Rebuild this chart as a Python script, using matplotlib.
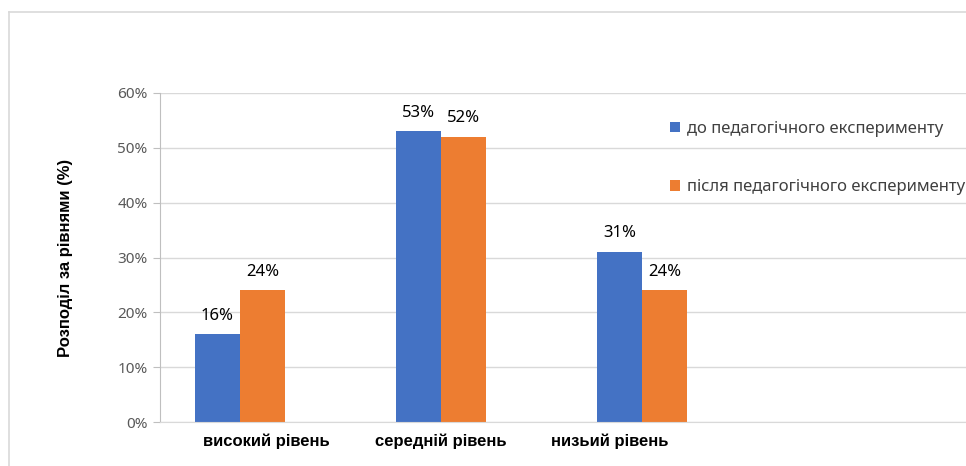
import numpy as np
import matplotlib
matplotlib.use("Agg")
import matplotlib.pyplot as plt
from matplotlib.lines import Line2D

plt.rcParams['font.family'] = ['Noto Sans', 'DejaVu Sans']

categories = ["високий рівень", "середній рівень", "низьий рівень"]
before = [16, 53, 31]
after = [24, 52, 24]
series_names = ["до педагогічного експерименту", "після педагогічного експерименту"]
colors = ["#4472c4", "#ed7d31"]
yticks = [0, 10, 20, 30, 40, 50, 60]

fig = plt.figure(figsize=(9.66, 4.66), dpi=100)
ax = fig.add_axes([160 / 966, 44 / 466, 1 - 160 / 966, 329 / 466])

x = np.arange(len(categories))
w = 0.224
b1 = ax.bar(x - w / 2, before, w, color=colors[0], label=series_names[0])
b2 = ax.bar(x + w / 2, after, w, color=colors[1], label=series_names[1])

for bars, vals in [(b1, before), (b2, after)]:
    for r, v in zip(bars, vals):
        ax.annotate(f"{v}%", (r.get_x() + r.get_width() / 2, v),
                    xytext=(0, 13.5), textcoords="offset points",
                    ha="center", va="center", fontsize=12, color="black")

ax.set_xlim(-80 / 201, (966 - 240) / 201)
ax.set_ylim(0, 60)
ax.set_yticks(yticks)
ax.set_yticklabels([f"{t}%" for t in yticks], fontsize=11, color="#595959")
# category labels sit a little off the bar groups in the original
label_shift = np.array([0.13, 0.0, -0.16])
ax.set_xticks(x + label_shift)
ax.set_xticklabels(categories, fontsize=12, fontweight="bold", color="black",
                   family=["Liberation Sans", "DejaVu Sans"])
ax.tick_params(axis="x", length=0, pad=8)
ax.tick_params(axis="y", length=5, color="#bfbfbf", pad=4)
ax.yaxis.grid(True, color="#d9d9d9", linewidth=1)
ax.set_axisbelow(True)
for s in ["top", "right"]:
    ax.spines[s].set_visible(False)
ax.spines["left"].set_color("#bfbfbf")
ax.spines["bottom"].set_color("#d9d9d9")

ax.set_ylabel("Розподіл за рівнями (%)", fontsize=12, fontweight="bold", labelpad=32,
              family=["Liberation Sans", "DejaVu Sans"])

ax.legend(loc="upper left", bbox_to_anchor=(655 / 966, (466 - 106) / 466),
          bbox_transform=fig.transFigure, frameon=False, fontsize=12,
          handlelength=0.6, handleheight=0.6, handletextpad=0.4,
          labelspacing=2.55, labelcolor="#404040")

# outer chart frame
fig.add_artist(Line2D([9 / 966, 9 / 966], [0, (466 - 12) / 466], color="#d9d9d9", linewidth=1.2))
fig.add_artist(Line2D([9 / 966, 1], [(466 - 12) / 466, (466 - 12) / 466], color="#d9d9d9", linewidth=1.2))

fig.savefig("out.png", dpi=100)
